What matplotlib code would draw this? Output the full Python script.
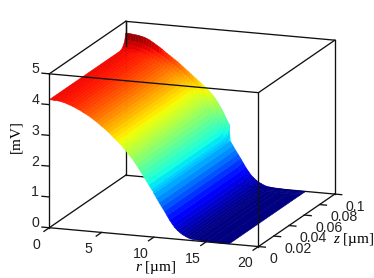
import numpy as np
import matplotlib
matplotlib.use('Agg')
import matplotlib.pyplot as plt
from mpl_toolkits.mplot3d import proj3d

plt.rcParams['font.family'] = ['Liberation Sans', 'DejaVu Sans']
plt.rcParams['mathtext.fontset'] = 'custom'
plt.rcParams['mathtext.rm'] = 'Liberation Serif'
plt.rcParams['mathtext.it'] = 'Liberation Serif:italic'

# values
r_um = [0, .25, .5, .75, 1, 1.25, 1.5, 1.75, 2, 2.25, 2.5, 2.75, 3, 3.25, 3.5, 3.75,
        4, 4.25, 4.5, 4.75, 5, 5.25, 5.5, 5.75, 6, 6.25, 6.5, 6.75, 7, 7.25, 7.5, 7.75,
        8, 8.25, 8.5, 8.75, 9, 9.25, 9.5, 9.75, 9.9, 10, 10.25, 10.5, 10.75, 11, 11.25,
        11.5, 11.75, 12, 12.25, 12.5, 12.75, 13, 13.25, 13.5, 13.75, 14, 14.5, 15, 16, 17.2]
v_inner = [4.16, 4.16, 4.15, 4.15, 4.14, 4.12, 4.10, 4.07, 4.04, 4.01, 3.97, 3.93, 3.89, 3.84, 3.80, 3.75,
           3.70, 3.64, 3.58, 3.52, 3.45, 3.39, 3.32, 3.25, 3.17, 3.09, 3.01, 2.93, 2.85, 2.75, 2.65, 2.55,
           2.45, 2.33, 2.21, 2.08, 1.95, 1.82, 1.69, 1.56, 1.50, 1.42, 1.28, 1.14, 1.01, .88, .74,
           .60, .48, .37, .29, .22, .16, .12, .08, .05, .04, .03, .02, .01, 0, 0]
v_edge = [4.62, 4.62, 4.61, 4.60, 4.59, 4.58, 4.56, 4.54, 4.51, 4.47, 4.42, 4.37, 4.31, 4.26, 4.20, 4.13,
          4.07, 4.01, 3.95, 3.89, 3.83, 3.76, 3.69, 3.62, 3.55, 3.48, 3.41, 3.34, 3.27, 3.20, 3.13, 3.07,
          2.98, 2.89, 2.79, 2.67, 2.53, 2.39, 2.22, 2.05, 1.96, 1.42, 1.28, 1.14, 1.01, .88, .74,
          .60, .48, .37, .29, .22, .16, .12, .08, .05, .04, .03, .02, .01, 0, 0]
z_um = [0, .093, .0955, .0975, .099, .1]
edge_share = [0, 0, .1, .3, .55, 1]

r_ticks = [0, 5, 10, 15, 20]
z_ticks = [0, .02, .04, .06, .08, .1]
v_ticks = [0, 1, 2, 3, 4, 5]

R, Z = np.meshgrid(r_um, z_um)
V = np.array([np.array(v_inner) + s * (np.array(v_edge) - np.array(v_inner)) for s in edge_share])

fig = plt.figure(figsize=(3.74, 2.78), dpi=100)
# 3d axes stay square, so make the square as wide as the figure
ax = fig.add_axes([0, -48 / 278, 1, 374 / 278], projection='3d', computed_zorder=False)
ax.set_proj_type('ortho')
ax.view_init(elev=14.4, azim=-70.1)
ax.set_box_aspect((224, 226, 160), zoom=.918)
ax.set_xlim(0, 20)
ax.set_ylim(0, .1)
ax.set_zlim(0, 5)
ax.set_axis_off()

surf = ax.plot_surface(R, Z, V, cmap='jet', vmin=0, vmax=4.62, rcount=len(z_um), ccount=len(r_um),
                       shade=False, linewidth=.4, antialiased=True, zorder=2)
surf.set_edgecolor('face')

lw = .95
black = '#111111'
rmax, zmax, vmax = 20, .1, 5
back = [((0, zmax, 0), (rmax, zmax, 0)), ((0, 0, 0), (0, zmax, 0)), ((rmax, 0, 0), (rmax, zmax, 0)),
        ((0, zmax, 0), (0, zmax, vmax)), ((rmax, zmax, 0), (rmax, zmax, vmax))]
front = [((0, 0, 0), (rmax, 0, 0)), ((0, 0, 0), (0, 0, vmax)), ((rmax, 0, 0), (rmax, 0, vmax)),
         ((0, 0, vmax), (rmax, 0, vmax)), ((0, 0, vmax), (0, zmax, vmax)),
         ((0, zmax, vmax), (rmax, zmax, vmax)), ((rmax, 0, vmax), (rmax, zmax, vmax)),
         ((0, zmax, 4.2), (0, zmax, vmax))]
for p, q in back:
    ax.plot(*zip(p, q), color=black, lw=lw, zorder=1)
for p, q in front:
    ax.plot(*zip(p, q), color=black, lw=lw, zorder=3)


def label(x, y, z, s, ha):
    # place the text at the projected spot of a 3d point
    px, py, _ = proj3d.proj_transform(x, y, z, ax.get_proj())
    ax.text2D(px, py, s, transform=ax.transData, ha=ha, va='center', fontsize=10.2, color='#222222')


# ticks
for t in r_ticks:
    ax.plot([t, t], [0, -.007], [0, 0], color=black, lw=lw, zorder=3)
    label(t, -.017, -.26, str(t), 'center')
for t in z_ticks:
    ax.plot([rmax, rmax + .66], [t, t], [0, 0], color=black, lw=lw, zorder=3)
    label(rmax + 1.05, t, -.38, '%g' % t, 'left')
for t in v_ticks:
    ax.plot([0, -.7], [0, 0], [t, t], color=black, lw=lw, zorder=3)
    label(-1.35, 0, t + .11, str(t), 'center')

fig.text(156 / 374, 1 - 268 / 278, '$r$ [µm]', ha='center', va='center', fontsize=11, family='Liberation Serif')
fig.text(354 / 374, 1 - 240 / 278, '$z$ [µm]', ha='center', va='center', fontsize=11, family='Liberation Serif')
fig.text(16 / 374, 1 - 137 / 278, '[mV]', ha='center', va='center', rotation=90, fontsize=11, family='Liberation Serif')

fig.savefig('out.png', dpi=100)
